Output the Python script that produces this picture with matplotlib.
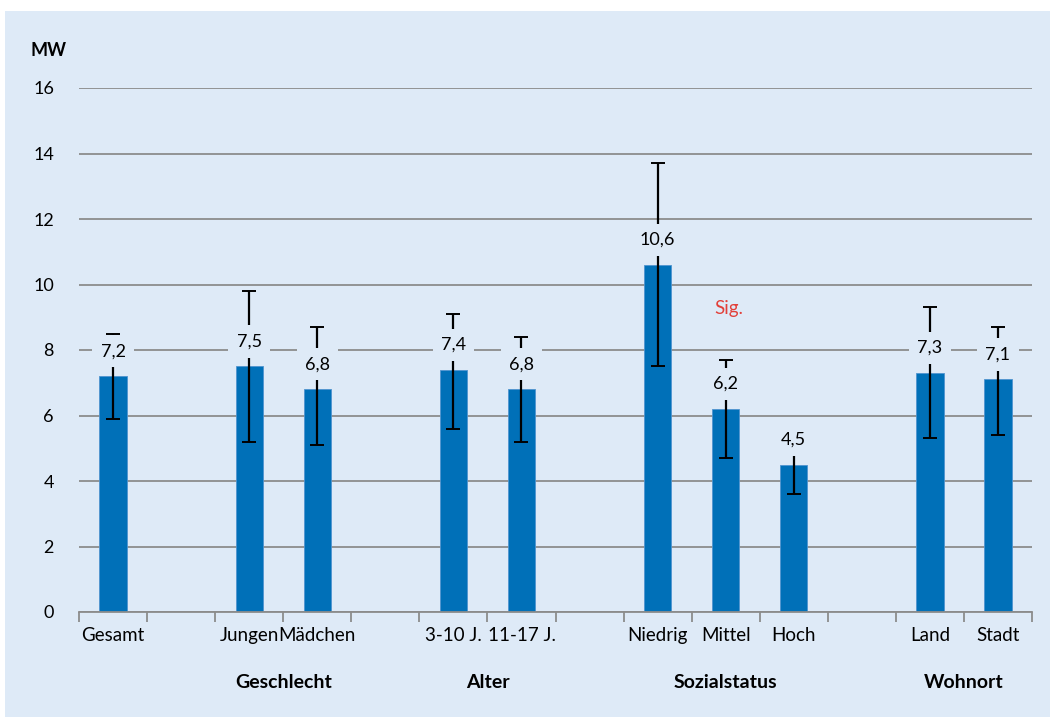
import numpy as np
import matplotlib.pyplot as plt
from matplotlib.patches import Rectangle

plt.rcParams['font.family'] = ['Lato', 'DejaVu Sans']

PANEL = '#deeaf7'
BAR = '#0070b8'
GRID = '#8c8c8c'

# slots on the x axis, '' = empty gap between groups
categories = ['Gesamt', '', 'Jungen', 'Mädchen', '', '3-10 J.', '11-17 J.', '',
              'Niedrig', 'Mittel', 'Hoch', '', 'Land', 'Stadt']
values = [7.2, None, 7.5, 6.8, None, 7.4, 6.8, None, 10.6, 6.2, 4.5, None, 7.3, 7.1]
ci_low = [5.9, None, 5.2, 5.1, None, 5.6, 5.2, None, 7.5, 4.7, 3.6, None, 5.3, 5.4]
ci_high = [8.5, None, 9.8, 8.7, None, 9.1, 8.4, None, 13.7, 7.7, 5.4, None, 9.3, 8.7]

group_names = ['Geschlecht', 'Alter', 'Sozialstatus', 'Wohnort']
group_members = [['Jungen', 'Mädchen'], ['3-10 J.', '11-17 J.'],
                 ['Niedrig', 'Mittel', 'Hoch'], ['Land', 'Stadt']]

fig = plt.figure(figsize=(10.5, 7.17), dpi=100)
fig.patch.set_facecolor('white')
fig.patches.append(Rectangle((5 / 1050, 0), 1 - 5 / 1050, (717 - 11) / 717,
                             transform=fig.transFigure, facecolor=PANEL,
                             edgecolor='none', zorder=-10))

ax = fig.add_axes([79 / 1050, 105 / 717, 953 / 1050, 524 / 717])
ax.set_facecolor('none')

idx = [i for i, v in enumerate(values) if v is not None]
vals = np.array([values[i] for i in idx])
lo = np.array([ci_low[i] for i in idx])
hi = np.array([ci_high[i] for i in idx])

ax.bar(idx, vals, width=0.4, color=BAR, edgecolor='#4f94cf', linewidth=0.6, zorder=2)
ax.errorbar(idx, vals, yerr=[vals - lo, hi - vals], fmt='none', ecolor='black',
            elinewidth=1.6, capsize=5, capthick=1.4, zorder=3)

for x, v in zip(idx, vals):
    ax.annotate(f'{v:.1f}'.replace('.', ','), (x, v), xytext=(0, 18),
                textcoords='offset points', ha='center', va='center', fontsize=13,
                bbox=dict(boxstyle='square,pad=0.45', facecolor=PANEL, edgecolor='none'),
                zorder=4)

ax.set_xlim(-0.5, len(categories) - 0.5)
ax.set_ylim(0, 16)
ax.set_yticks(range(0, 17, 2))
ax.tick_params(axis='y', length=0, labelsize=13, pad=18)
ax.yaxis.grid(True, color=GRID, linewidth=1.3)
ax.set_axisbelow(True)

ax.set_xticks(range(len(categories)))
ax.set_xticklabels(categories, fontsize=13.5)
ax.set_xticks(np.arange(-0.5, len(categories)), minor=True)
ax.tick_params(axis='x', which='major', length=0, pad=11)
ax.tick_params(axis='x', which='minor', length=7, width=1.3, color=GRID, direction='out')

for s in ['top', 'right', 'left']:
    ax.spines[s].set_visible(False)
ax.spines['bottom'].set_color(GRID)
ax.spines['bottom'].set_linewidth(1.3)

for name, members in zip(group_names, group_members):
    pos = np.mean([categories.index(m) for m in members])
    ax.annotate(name, (pos, 0), xytext=(0, -51), textcoords='offset points',
                xycoords=('data', 'axes fraction'), ha='center', va='center',
                fontsize=14, fontweight='bold')

ax.text(9.05, 9.28, 'Sig.', color='#e2403a', fontsize=13.5, ha='center', va='center')
fig.text(48 / 1050, 1 - 50 / 717, 'MW', fontsize=13, fontweight='bold',
         ha='center', va='center')

fig.savefig('out.png', dpi=100, facecolor=fig.get_facecolor())
